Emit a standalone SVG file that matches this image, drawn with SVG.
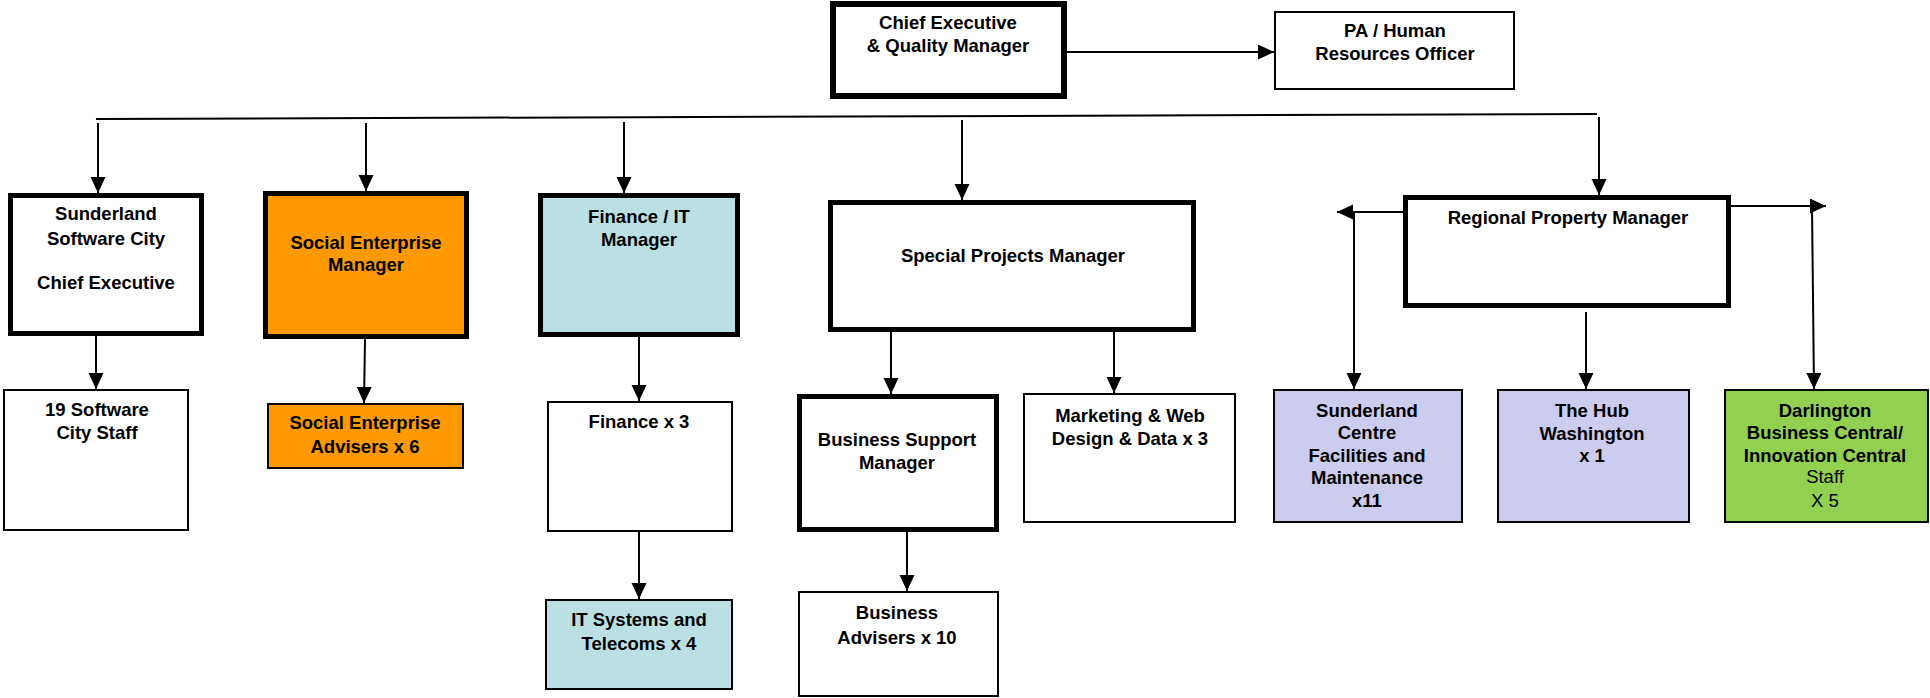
<svg xmlns="http://www.w3.org/2000/svg" width="1930" height="698" viewBox="0 0 1930 698">
<style>
.bx{fill:#fff;stroke:#000;stroke-width:2}
.tk{stroke-width:5}
.xk{stroke-width:6}
.org{fill:#FF9900}
.blu{fill:#BBE0E3}
.lav{fill:#CCCCEE}
.grn{fill:#92D050}
text{font-family:"Liberation Sans",Arial,sans-serif;font-size:18.5px;font-weight:bold;text-anchor:middle;fill:#000}
.n{font-weight:normal}
.c{fill:none;stroke:#000;stroke-width:2}
</style>
<defs>
<marker id="ah" markerUnits="userSpaceOnUse" markerWidth="17" markerHeight="16" refX="16" refY="7.5" orient="auto">
<path d="M0,0 L16,7.5 L0,15 z" fill="#000"/>
</marker>
</defs>
<rect width="1930" height="698" fill="#fff"/>
<g id="connectors">
<line class="c" x1="1067" y1="52" x2="1274" y2="52" marker-end="url(#ah)"/>
<line class="c" x1="96" y1="119" x2="1597" y2="114"/>
<line class="c" x1="98" y1="123" x2="98" y2="193" marker-end="url(#ah)"/>
<line class="c" x1="366" y1="123" x2="366" y2="191" marker-end="url(#ah)"/>
<line class="c" x1="624" y1="122" x2="624" y2="193" marker-end="url(#ah)"/>
<line class="c" x1="962" y1="120" x2="962" y2="200" marker-end="url(#ah)"/>
<line class="c" x1="1599" y1="117" x2="1599" y2="195" marker-end="url(#ah)"/>
<line class="c" x1="96" y1="336" x2="96" y2="389" marker-end="url(#ah)"/>
<line class="c" x1="365" y1="339" x2="364" y2="403" marker-end="url(#ah)"/>
<line class="c" x1="639" y1="337" x2="639" y2="401" marker-end="url(#ah)"/>
<line class="c" x1="639" y1="532" x2="639" y2="599" marker-end="url(#ah)"/>
<line class="c" x1="891" y1="332" x2="891" y2="394" marker-end="url(#ah)"/>
<line class="c" x1="1114" y1="332" x2="1114" y2="393" marker-end="url(#ah)"/>
<line class="c" x1="907" y1="532" x2="907" y2="591" marker-end="url(#ah)"/>
<line class="c" x1="1403" y1="212" x2="1337" y2="212" marker-end="url(#ah)"/>
<line class="c" x1="1354" y1="212" x2="1354" y2="389" marker-end="url(#ah)"/>
<line class="c" x1="1731" y1="206" x2="1826" y2="206" marker-end="url(#ah)"/>
<line class="c" x1="1812" y1="206" x2="1814" y2="389" marker-end="url(#ah)"/>
<line class="c" x1="1586" y1="312" x2="1586" y2="389" marker-end="url(#ah)"/>
</g>
<g id="ceo">
<rect class="bx xk" x="833" y="4" width="231" height="92"/>
<text x="948" y="29">Chief Executive</text>
<text x="948" y="52">&amp; Quality Manager</text>
</g>
<g id="pa">
<rect class="bx" x="1275" y="12" width="239" height="77"/>
<text x="1395" y="37">PA / Human</text>
<text x="1395" y="60">Resources Officer</text>
</g>
<g id="ssc">
<rect class="bx tk" x="10.5" y="195.5" width="191" height="138"/>
<text x="106" y="220">Sunderland</text>
<text x="106" y="245">Software City</text>
<text x="106" y="289">Chief Executive</text>
</g>
<g id="sem">
<rect class="bx tk org" x="265.5" y="193.5" width="201" height="143"/>
<text x="366" y="249">Social Enterprise</text>
<text x="366" y="271">Manager</text>
</g>
<g id="fit">
<rect class="bx tk blu" x="540.5" y="195.5" width="197" height="139"/>
<text x="639" y="223">Finance / IT</text>
<text x="639" y="246">Manager</text>
</g>
<g id="spm">
<rect class="bx tk" x="830.5" y="202.5" width="363" height="127"/>
<text x="1013" y="262">Special Projects Manager</text>
</g>
<g id="rpm">
<rect class="bx tk" x="1405.5" y="197.5" width="323" height="108"/>
<text x="1568" y="224">Regional Property Manager</text>
</g>
<g id="sscstaff">
<rect class="bx" x="4" y="390" width="184" height="140"/>
<text x="97" y="416">19 Software</text>
<text x="97" y="439">City Staff</text>
</g>
<g id="sea">
<rect class="bx org" x="268" y="404" width="195" height="64"/>
<text x="365" y="429">Social Enterprise</text>
<text x="365" y="453">Advisers x 6</text>
</g>
<g id="fin">
<rect class="bx" x="548" y="402" width="184" height="129"/>
<text x="639" y="428">Finance x 3</text>
</g>
<g id="its">
<rect class="bx blu" x="546" y="600" width="186" height="89"/>
<text x="639" y="626">IT Systems and</text>
<text x="639" y="650">Telecoms x 4</text>
</g>
<g id="bsm">
<rect class="bx tk" x="799.5" y="396.5" width="197" height="133"/>
<text x="897" y="446">Business Support</text>
<text x="897" y="469">Manager</text>
</g>
<g id="ba">
<rect class="bx" x="799" y="592" width="199" height="104"/>
<text x="897" y="619">Business</text>
<text x="897" y="644">Advisers x 10</text>
</g>
<g id="mkt">
<rect class="bx" x="1024" y="394" width="211" height="128"/>
<text x="1130" y="422">Marketing &amp; Web</text>
<text x="1130" y="445">Design &amp; Data x 3</text>
</g>
<g id="sc">
<rect class="bx lav" x="1274" y="390" width="188" height="132"/>
<text x="1367" y="417">Sunderland</text>
<text x="1367" y="439">Centre</text>
<text x="1367" y="462">Facilities and</text>
<text x="1367" y="484">Maintenance</text>
<text x="1367" y="507">x11</text>
</g>
<g id="hub">
<rect class="bx lav" x="1498" y="390" width="191" height="132"/>
<text x="1592" y="417">The Hub</text>
<text x="1592" y="440">Washington</text>
<text x="1592" y="462">x 1</text>
</g>
<g id="darl">
<rect class="bx grn" x="1725" y="390" width="203" height="132"/>
<text x="1825" y="417">Darlington</text>
<text x="1825" y="439">Business Central/</text>
<text x="1825" y="462">Innovation Central</text>
<text class="n" x="1825" y="483">Staff</text>
<text class="n" x="1825" y="507">X 5</text>
</g>
</svg>
